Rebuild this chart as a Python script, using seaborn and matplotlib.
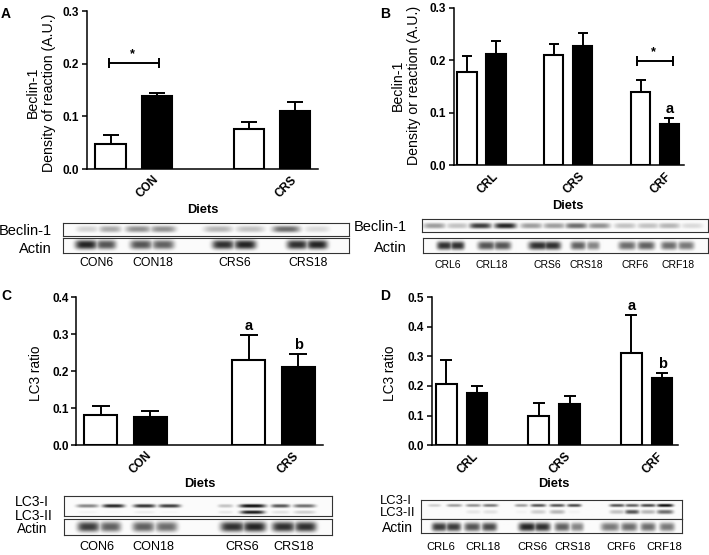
import numpy as np
import pandas as pd
import matplotlib
matplotlib.use("Agg")
from matplotlib import pyplot as plt
from matplotlib.transforms import ScaledTranslation
import seaborn as sns

W, H = 709, 555

# bar charts: mean and top of the error bar, order is 6 then 18 for each diet
ages = ["6", "18"]
diets_a = ["CON", "CRS"]
values_a = [0.048, 0.138, 0.076, 0.111]
tops_a = [0.065, 0.144, 0.089, 0.127]

diets_b = ["CRL", "CRS", "CRF"]
values_b = [0.177, 0.213, 0.210, 0.227, 0.140, 0.079]
tops_b = [0.209, 0.238, 0.231, 0.252, 0.163, 0.091]

diets_c = ["CON", "CRS"]
values_c = [0.083, 0.076, 0.229, 0.210]
tops_c = [0.106, 0.093, 0.297, 0.247]

diets_d = ["CRL", "CRS", "CRF"]
values_d = [0.206, 0.178, 0.100, 0.140, 0.312, 0.228]
tops_d = [0.289, 0.201, 0.142, 0.167, 0.440, 0.244]

ticks_ab = [0.0, 0.1, 0.2, 0.3]
ticks_c = [0.0, 0.1, 0.2, 0.3, 0.4]
ticks_d = [0.0, 0.1, 0.2, 0.3, 0.4, 0.5]

# blots: how dark each band is
beclin_a = [.18, .35, .45, .45, .30, .25, .60, .15]
actin_a = [.90, .70, .70, .65, .85, .90, .85, .90]
beclin_b = [.40, .25, .80, .90, .40, .40, .60, .45, .25, .25, .30, .15]
actin_b = [.85, .85, .70, .70, .85, .85, .65, .50, .60, .65, .60, .55]
lc3i_c = [.50, .90, .85, .80, .25, 1.0, .70, .60]
lc3ii_c = [.05, .03, .08, .04, .10, .95, .12, .20]
actin_c = [.80, .65, .65, .60, .85, .90, .85, .85]
lc3i_d = [.20, .40, .45, .55, .40, .70, .70, .75, .70, .65, .75, 1.0]
lc3ii_d = [.02, .02, .10, .12, .05, .20, .30, .05, .25, .70, .30, .60]
actin_d = [.80, .80, .70, .75, .90, .85, .65, .50, .55, .60, .60, .55]

lanes_a = ["CON6", "CON18", "CRS6", "CRS18"]
lanes_b = ["CRL6", "CRL18", "CRS6", "CRS18", "CRF6", "CRF18"]

sns.set_theme(style="ticks", rc={
    "axes.edgecolor": "black", "axes.linewidth": 1.1,
    "xtick.color": "black", "ytick.color": "black",
    "text.color": "black", "axes.labelcolor": "black",
})
plt.rcParams["font.family"] = ["Liberation Sans", "DejaVu Sans"]

fig = plt.figure(figsize=(W / 100, H / 100), dpi=100)


def px_axes(l, t, r, b):
    return fig.add_axes([l / W, 1 - b / H, (r - l) / W, (b - t) / H])


def px_text(x, y, s, size, ha="center", weight="normal"):
    fig.text(x / W, 1 - y / H, s, fontsize=size, ha=ha, va="center", fontweight=weight)


def bar_panel(rect, xlim, diets, values, tops, yticks, capsize, ylabel, ylabel_size, ylabel_px, xlabel_px, xshift):
    l, t, r, b = rect
    ax = px_axes(l, t, r, b)
    df = pd.DataFrame({
        "diet": np.repeat(diets, len(ages)),
        "age": ages * len(diets),
        "value": values,
    })
    sns.barplot(data=df, x="diet", y="value", hue="age", hue_order=ages, order=diets,
                palette=["white", "black"], width=0.667, gap=0.33, edgecolor="black",
                linewidth=1.5, errorbar=None, legend=False, ax=ax)
    bars = sorted(ax.patches, key=lambda p: p.get_x())
    centers = [p.get_x() + p.get_width() / 2 for p in bars]
    up = np.array(tops) - np.array(values)
    ax.errorbar(centers, values, yerr=[np.zeros(len(up)), up], fmt="none", ecolor="black",
                elinewidth=1.4, capsize=capsize, capthick=1.4)
    ax.set_xlim(*xlim)
    ax.set_ylim(yticks[0], yticks[-1])
    ax.set_yticks(yticks)
    ax.set_yticklabels(["%.1f" % v for v in yticks], fontsize=8.5, fontweight="bold")
    ax.tick_params(axis="y", length=3.6, width=1.1, pad=2)
    ax.tick_params(axis="x", length=0, pad=12.8)
    ax.set_xticklabels(diets, rotation=45, ha="center", va="center", fontsize=8.5, fontweight="bold")
    shift = ScaledTranslation(xshift / 100, 0, fig.dpi_scale_trans)
    for lab in ax.get_xticklabels():
        lab.set_transform(lab.get_transform() + shift)
    sns.despine(ax=ax)
    ax.patch.set_alpha(0)
    ax.set_ylabel(ylabel, fontsize=ylabel_size, va="center", ha="center", multialignment="center")
    ax.yaxis.set_label_coords((ylabel_px[0] - l) / (r - l), (b - ylabel_px[1]) / (b - t))
    ax.set_xlabel("Diets", fontsize=9.3, fontweight="bold", va="center")
    ax.xaxis.set_label_coords((xlabel_px[0] - l) / (r - l), (b - xlabel_px[1]) / (b - t))
    return ax, centers


def bracket(ax, x0, x1, y, pad):
    ax.plot([x0 - pad, x1 + pad], [y, y], color="black", lw=1.4, marker="|", ms=7.5, mew=1.4)
    ax.annotate("*", ((x0 + x1) / 2, y), xytext=(-1, 2), textcoords="offset points",
                ha="center", va="bottom", fontsize=9, fontweight="bold")


def letter(ax, x, top, s):
    ax.annotate(s, (x, top), xytext=(0, 1.5), textcoords="offset points", ha="center",
                va="bottom", fontsize=10.5, fontweight="bold")


def blot(rect, rows):
    # rows: (vertical place 0-1, blur in px, band centres, band widths, darkness)
    l, t, r, b = rect
    ax = px_axes(l, t, r, b)
    xs = np.arange(l, r, 0.5)
    ys = np.arange(t, b, 0.5)
    xx, yy = np.meshgrid(xs, ys)
    img = np.full(xx.shape, 0.02)
    for frac, blur, centres, widths, dark in rows:
        cy = t + frac * (b - t)
        for cx, w, d in zip(centres, widths, dark):
            band = d * np.exp(-np.abs((xx - cx) / (w * 0.55)) ** 4) * np.exp(-np.abs((yy - cy) / blur) ** 2.6)
            # max so neighbouring bands do not add up to hot spots
            img = np.maximum(img, band)
    ax.imshow(np.clip(img, 0, 1), cmap="gray_r", vmin=0, vmax=1.05, aspect="auto",
              extent=(l, r, b, t), interpolation="bilinear")
    ax.set_xticks([])
    ax.set_yticks([])
    for s in ax.spines.values():
        s.set_linewidth(0.8)
        s.set_color("#333333")


# panel A
ax, c = bar_panel((87, 11.3, 318, 169), (-0.34, 1.333), diets_a, values_a, tops_a, ticks_ab, 6.0,
                  "Beclin-1\nDensity of reaction (A.U.)", 10.2, (41, 92.5), (203, 210), 14)
bracket(ax, c[0], c[1], 0.201, 0.017)
px_text(6, 14, "A", 10, weight="bold")
blot((63, 222.5, 348.7, 235.7), [(.5, 3.2, [87, 110, 138, 163, 218, 250, 286, 317],
                                  [20, 20, 23, 23, 26, 26, 25, 23], beclin_a)])
blot((63, 237.7, 348.7, 252.5), [(.5, 4.6, [86, 106, 141, 163, 223, 245, 297, 317],
                                  [20, 18, 20, 20, 20, 20, 19, 19], actin_a)])
px_text(51.7, 231, "Beclin-1", 10.5, ha="right")
px_text(51.7, 249, "Actin", 10.5, ha="right")
for x, s in zip([96, 153, 235, 308], lanes_a):
    px_text(x, 263, s, 8.8)

# panel B
ax, c = bar_panel((453.7, 8, 684, 165.3), (-0.32, 2.334), diets_b, values_b, tops_b, ticks_ab, 3.8,
                  "Beclin-1\nDensity or reaction (A.U.)", 10.2, (405.5, 85.5), (568, 206), 6)
bracket(ax, c[4], c[5], 0.199, 0.045)
letter(ax, c[5], tops_b[5], "a")
px_text(385.5, 14, "B", 10, weight="bold")
blot((421.7, 219, 707.7, 232), [(.5, 2.8, [434, 457, 480, 505, 531, 554, 576, 599, 625, 648, 669, 692],
                                 [20] * 12, beclin_b)])
blot((422.7, 238.3, 707.7, 253), [(.5, 4.2, [444, 457, 486, 502, 538, 552, 578, 593, 627, 646, 669, 686],
                                   [14, 13, 16, 16, 18, 16, 14, 12, 16, 16, 15, 15], actin_b)])
px_text(406.7, 227, "Beclin-1", 10.5, ha="right")
px_text(407, 247.7, "Actin", 10.5, ha="right")
for x, s in zip([448, 492, 547, 586, 635, 678], lanes_b):
    px_text(x, 264.7, s, 7.5)

# panel C
ax, c = bar_panel((76.3, 297, 323, 445.3), (-0.332, 1.334), diets_c, values_c, tops_c, ticks_c, 6.5,
                  "LC3 ratio", 9.8, (35.7, 373), (200, 484), 15)
letter(ax, c[2], tops_c[2], "a")
letter(ax, c[3], tops_c[3], "b")
px_text(6, 296, "C", 10, weight="bold")
blot((63.7, 496, 332.3, 515.7), [
    (.49, 1.8, [87, 113, 144, 169, 225, 252, 280, 304], [20, 20, 20, 20, 14, 24, 17, 20], lc3i_c),
    (.81, 1.8, [87, 113, 144, 169, 225, 252, 280, 304], [20, 20, 20, 20, 14, 22, 17, 20], lc3ii_c),
])
blot((63.7, 519.3, 332.3, 535), [(.48, 5.0, [88, 110, 143, 166, 232, 254, 283, 305],
                                  [20, 19, 20, 20, 22, 21, 21, 20], actin_c)])
px_text(15.3, 502, "LC3-I", 10, ha="left")
px_text(15.3, 516, "LC3-II", 10, ha="left")
px_text(17.3, 529, "Actin", 9.8, ha="left")
for x, s in zip([97, 153, 242, 294], lanes_a):
    px_text(x, 546.7, s, 9.1)

# panel D
ax, c = bar_panel((431.7, 297, 678, 445.3), (-0.324, 2.338), diets_d, values_d, tops_d, ticks_d, 4.0,
                  "LC3 ratio", 9.8, (390, 373), (554, 484), 6)
letter(ax, c[4], tops_d[4], "a")
letter(ax, c[5], tops_d[5], "b")
px_text(385, 296, "D", 10, weight="bold")
blot((420.7, 499.7, 681.7, 518.7), [
    (.28, 1.6, [434, 454, 473, 490, 521, 538, 557, 574, 617, 632, 648, 665],
     [12, 14, 14, 14, 12, 14, 14, 13, 14, 13, 14, 15], lc3i_d),
    (.63, 2.2, [434, 454, 473, 490, 521, 538, 557, 574, 617, 632, 648, 665],
     [12, 14, 14, 14, 12, 14, 14, 13, 14, 13, 14, 15], lc3ii_d),
])
blot((420.7, 519.3, 681.7, 532.7), [(.55, 4.2, [439, 453, 472, 489, 527, 542, 562, 577, 610, 629, 648, 667],
                                     [14, 14, 15, 14, 16, 15, 14, 12, 17, 15, 14, 14], actin_d)])
px_text(380, 501, "LC3-I", 9.4, ha="left")
px_text(380, 512.5, "LC3-II", 9.4, ha="left")
px_text(382, 527.7, "Actin", 10, ha="left")
for x, s in zip([441, 483, 532, 573, 621, 664], lanes_b):
    px_text(x, 546.7, s, 8.1)

fig.savefig("out.png", dpi=100)
